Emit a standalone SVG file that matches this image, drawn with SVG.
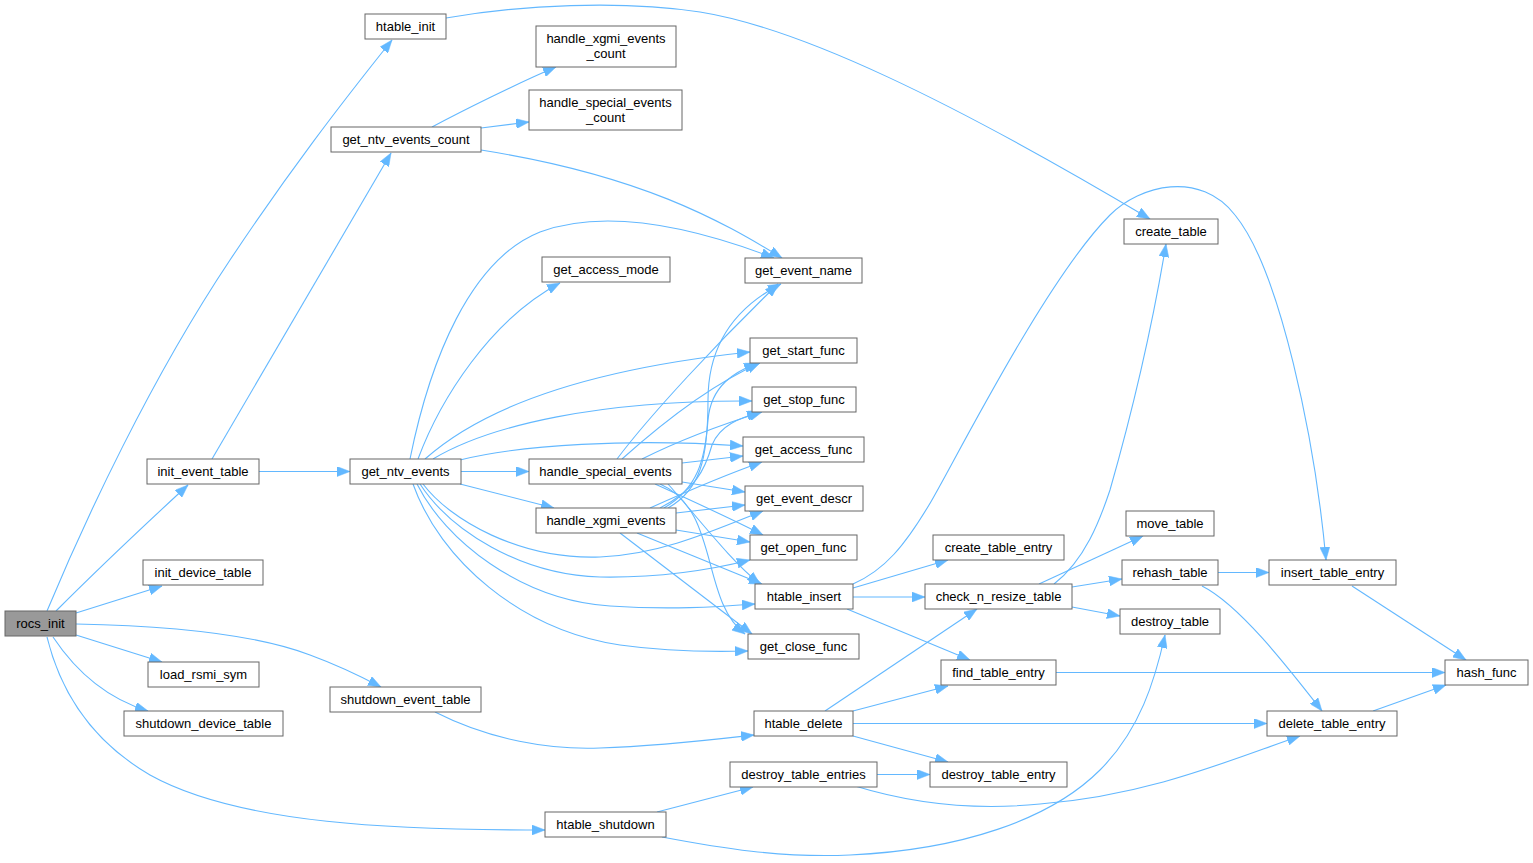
<svg xmlns="http://www.w3.org/2000/svg" width="1533" height="863" viewBox="0 0 1533 863">
<style>
.n rect{fill:#ffffff;stroke:#666666;stroke-width:1}
.n text{font-family:"Liberation Sans",Arial,sans-serif;font-size:13px;text-anchor:middle;fill:#000000}
#rocs_init rect{fill:#999999}
.e path{fill:none;stroke:#63b8ff;stroke-width:1.1;marker-end:url(#a)}
</style>
<defs>
<marker id="a" markerUnits="userSpaceOnUse" markerWidth="14" markerHeight="10" refX="13" refY="5" orient="auto">
<path d="M0,0 L13,5 L0,10 z" fill="#63b8ff" stroke="#63b8ff" stroke-width="0.5"/>
</marker>
</defs>
<rect width="1533" height="863" fill="#ffffff"/>
<g id="edges" class="e">
<path d="M47,611 C85,520 150,380 230,260 C290,170 340,105 392,40"/>
<path d="M56,611 C90,577 150,520 188,485"/>
<path d="M76,613 L162,586"/>
<path d="M76,624 C180,626 260,636 310,655 C340,666 362,677 381,687"/>
<path d="M76,635 L162,662"/>
<path d="M53,637 C65,655 95,695 148,711"/>
<path d="M47,637 C60,690 90,740 150,775 C240,825 400,830 545,830"/>
<path d="M259,471.5 L350,471.5"/>
<path d="M212,459 L391,153"/>
<path d="M432,127 C460,112 520,82 556,67"/>
<path d="M481,128 L529,122"/>
<path d="M481,150 C640,175 720,220 782,258"/>
<path d="M446,18 C520,5 620,0 700,12 C800,28 950,100 1150,219"/>
<path d="M410,459 C430,360 470,260 540,232 C600,210 680,222 774,258"/>
<path d="M418,459 C440,400 490,320 560,283"/>
<path d="M425,459 C480,410 580,370 750,352"/>
<path d="M433,459 C490,425 600,400 752,401"/>
<path d="M460,460 C520,445 630,438 743,446"/>
<path d="M461,471.5 L529,471.5"/>
<path d="M460,484 L554,508"/>
<path d="M423,484 C450,520 520,560 600,557 C660,555 715,530 763,511"/>
<path d="M420,484 C450,530 520,575 600,577 C660,578 710,570 750,560"/>
<path d="M417,484 C445,540 520,600 610,606 C670,610 715,607 755,604"/>
<path d="M413,484 C440,560 520,630 620,645 C670,652 710,652 748,651"/>
<path d="M617,459 C650,415 720,340 778,284"/>
<path d="M622,459 C660,425 710,385 760,363"/>
<path d="M642,459 C680,440 720,425 762,412"/>
<path d="M682,463 L743,456"/>
<path d="M682,482 L745,492"/>
<path d="M655,484 C690,500 730,518 763,535"/>
<path d="M668,484 C700,520 730,560 760,584"/>
<path d="M660,484 C720,510 700,600 745,634"/>
<path d="M668,508 C700,490 708,460 708,400 C708,340 740,305 781,284"/>
<path d="M664,508 C698,488 705,460 708,420 C711,385 735,372 757,363"/>
<path d="M660,508 C695,490 705,470 712,445 C720,425 740,418 760,412"/>
<path d="M650,508 C690,490 725,475 762,462"/>
<path d="M676,513 L745,505"/>
<path d="M676,530 C700,534 725,538 750,542"/>
<path d="M637,533 L762,584"/>
<path d="M620,533 L752,634"/>
<path d="M853,584 C885,570 905,545 929,505 C953,465 1045,280 1110,215 C1140,185 1200,170 1235,215 C1280,270 1315,440 1326,560"/>
<path d="M853,588 L948,560"/>
<path d="M853,597 L925,597"/>
<path d="M847,609 L970,660"/>
<path d="M1054,584 C1085,560 1100,520 1110,490 C1130,420 1150,340 1166,244"/>
<path d="M1039,584 L1143,536"/>
<path d="M1072,587 L1122,579"/>
<path d="M1072,607 L1120,616"/>
<path d="M1218,572.5 L1269,572.5"/>
<path d="M1202,586 C1240,605 1290,670 1322,711"/>
<path d="M1352,586 L1466,660"/>
<path d="M1056,672.5 L1445,672.5"/>
<path d="M1373,711 L1446,685"/>
<path d="M825,711 L977,609"/>
<path d="M853,711 L948,686"/>
<path d="M853,723.5 L1267,723.5"/>
<path d="M853,736 L948,762"/>
<path d="M435,712 C490,740 550,750 600,748 C660,746 710,740 754,735"/>
<path d="M657,812 L753,787"/>
<path d="M662,837 C720,848 780,858 850,855 C960,850 1050,820 1100,770 C1140,730 1155,680 1165,635"/>
<path d="M877,774.5 L930,774.5"/>
<path d="M855,786 C920,806 980,810 1040,804 C1150,795 1230,760 1300,736"/>
</g>
<g id="rocs_init" class="n"><rect x="5" y="611" width="71" height="25"/><text x="40.5" y="628">rocs_init</text></g>
<g id="htable_init" class="n"><rect x="365" y="14" width="81" height="25"/><text x="405.5" y="31">htable_init</text></g>
<g id="handle_xgmi_events_count" class="n"><rect x="536" y="26" width="140" height="41"/><text x="606" y="43">handle_xgmi_events</text><text x="606" y="57.5">_count</text></g>
<g id="handle_special_events_count" class="n"><rect x="529" y="90" width="153" height="40"/><text x="605.5" y="106.5">handle_special_events</text><text x="605.5" y="121.5">_count</text></g>
<g id="get_ntv_events_count" class="n"><rect x="331" y="127" width="150" height="25"/><text x="406" y="144">get_ntv_events_count</text></g>
<g id="create_table" class="n"><rect x="1124" y="219" width="94" height="25"/><text x="1171" y="236">create_table</text></g>
<g id="get_access_mode" class="n"><rect x="542" y="257" width="128" height="25"/><text x="606" y="274">get_access_mode</text></g>
<g id="get_event_name" class="n"><rect x="745" y="258" width="117" height="25"/><text x="803.5" y="275">get_event_name</text></g>
<g id="get_start_func" class="n"><rect x="750" y="338" width="107" height="25"/><text x="803.5" y="355">get_start_func</text></g>
<g id="get_stop_func" class="n"><rect x="752" y="387" width="104" height="25"/><text x="804" y="404">get_stop_func</text></g>
<g id="get_access_func" class="n"><rect x="743" y="437" width="121" height="25"/><text x="803.5" y="454">get_access_func</text></g>
<g id="init_event_table" class="n"><rect x="147" y="459" width="112" height="25"/><text x="203" y="476">init_event_table</text></g>
<g id="get_ntv_events" class="n"><rect x="350" y="459" width="111" height="25"/><text x="405.5" y="476">get_ntv_events</text></g>
<g id="handle_special_events" class="n"><rect x="529" y="459" width="153" height="25"/><text x="605.5" y="476">handle_special_events</text></g>
<g id="get_event_descr" class="n"><rect x="745" y="486" width="118" height="25"/><text x="804" y="503">get_event_descr</text></g>
<g id="handle_xgmi_events" class="n"><rect x="536" y="508" width="140" height="25"/><text x="606" y="525">handle_xgmi_events</text></g>
<g id="move_table" class="n"><rect x="1126" y="511" width="88" height="25"/><text x="1170" y="528">move_table</text></g>
<g id="get_open_func" class="n"><rect x="750" y="535" width="107" height="25"/><text x="803.5" y="552">get_open_func</text></g>
<g id="create_table_entry" class="n"><rect x="933" y="535" width="131" height="25"/><text x="998.5" y="552">create_table_entry</text></g>
<g id="init_device_table" class="n"><rect x="143" y="560" width="120" height="25"/><text x="203" y="577">init_device_table</text></g>
<g id="rehash_table" class="n"><rect x="1122" y="560" width="96" height="25"/><text x="1170" y="577">rehash_table</text></g>
<g id="insert_table_entry" class="n"><rect x="1269" y="560" width="127" height="25"/><text x="1332.5" y="577">insert_table_entry</text></g>
<g id="htable_insert" class="n"><rect x="755" y="584" width="98" height="25"/><text x="804" y="601">htable_insert</text></g>
<g id="check_n_resize_table" class="n"><rect x="925" y="584" width="147" height="25"/><text x="998.5" y="601">check_n_resize_table</text></g>
<g id="destroy_table" class="n"><rect x="1120" y="609" width="100" height="25"/><text x="1170" y="626">destroy_table</text></g>
<g id="get_close_func" class="n"><rect x="748" y="634" width="111" height="25"/><text x="803.5" y="651">get_close_func</text></g>
<g id="load_rsmi_sym" class="n"><rect x="148" y="662" width="111" height="25"/><text x="203.5" y="679">load_rsmi_sym</text></g>
<g id="find_table_entry" class="n"><rect x="941" y="660" width="115" height="25"/><text x="998.5" y="677">find_table_entry</text></g>
<g id="hash_func" class="n"><rect x="1445" y="660" width="83" height="25"/><text x="1486.5" y="677">hash_func</text></g>
<g id="shutdown_event_table" class="n"><rect x="330" y="687" width="151" height="25"/><text x="405.5" y="704">shutdown_event_table</text></g>
<g id="shutdown_device_table" class="n"><rect x="124" y="711" width="159" height="25"/><text x="203.5" y="728">shutdown_device_table</text></g>
<g id="htable_delete" class="n"><rect x="754" y="711" width="99" height="25"/><text x="803.5" y="728">htable_delete</text></g>
<g id="delete_table_entry" class="n"><rect x="1267" y="711" width="130" height="25"/><text x="1332" y="728">delete_table_entry</text></g>
<g id="destroy_table_entries" class="n"><rect x="730" y="762" width="147" height="25"/><text x="803.5" y="779">destroy_table_entries</text></g>
<g id="destroy_table_entry" class="n"><rect x="930" y="762" width="137" height="25"/><text x="998.5" y="779">destroy_table_entry</text></g>
<g id="htable_shutdown" class="n"><rect x="545" y="812" width="121" height="25"/><text x="605.5" y="829">htable_shutdown</text></g>
</svg>
